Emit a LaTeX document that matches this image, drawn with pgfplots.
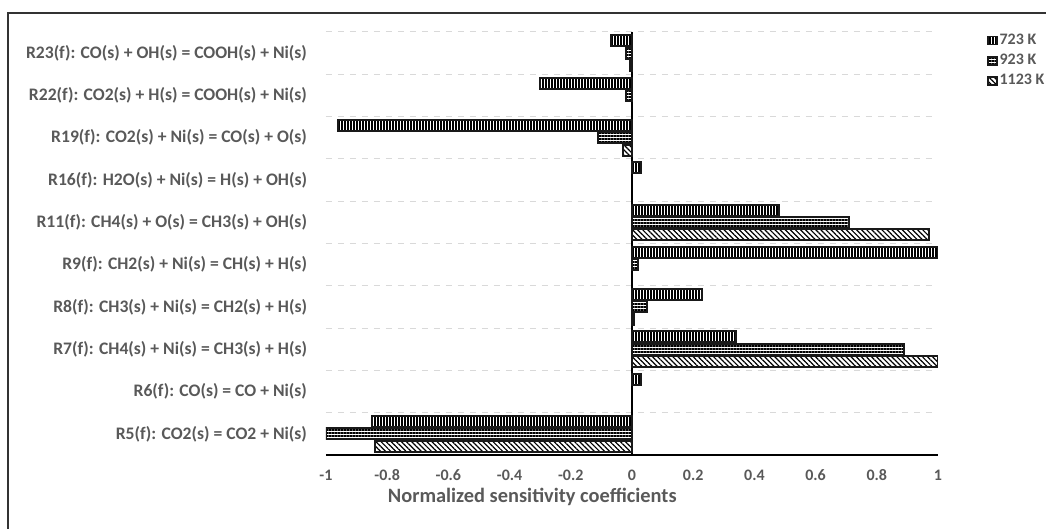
\documentclass[border=0pt]{standalone}
\usepackage{fontspec}
\setmainfont{Carlito}
\usepackage{pgfplots}
\pgfplotsset{compat=1.18}
\usetikzlibrary{patterns.meta}
\definecolor{txt}{HTML}{595959}
\definecolor{gridc}{HTML}{D9D9D9}

\begin{document}
\begin{tikzpicture}
\useasboundingbox (-163pt,-37pt) rectangle (360pt,227.5pt);
\draw[black!80, line width=0.9pt] (-159pt,-37pt) -- (-159pt,221pt) -- (360pt,221pt);
\begin{axis}[
    at={(0,0)}, anchor=south west,
    scale only axis,
    width=306pt, height=211.5pt,
    xbar,
    xmin=-1, xmax=1,
    ymin=-0.5, ymax=9.5,
    y dir=reverse,
    xtick={-1,-0.8,...,1},
    ytick={0,...,9},
    yticklabels={
      R23(f): CO(s) + OH(s) = COOH(s) + Ni(s),
      R22(f): CO2(s) + H(s) = COOH(s) + Ni(s),
      R19(f): CO2(s) + Ni(s) = CO(s) + O(s),
      R16(f): H2O(s) + Ni(s) = H(s) + OH(s),
      R11(f): CH4(s) + O(s) = CH3(s) + OH(s),
      R9(f): CH2(s) + Ni(s) = CH(s) + H(s),
      R8(f): CH3(s) + Ni(s) = CH2(s) + H(s),
      R7(f): CH4(s) + Ni(s) = CH3(s) + H(s),
      R6(f): CO(s) = CO + Ni(s),
      R5(f): CO2(s) = CO2 + Ni(s)},
    minor ytick={-0.5,0.5,...,8.5},
    yminorgrids,
    minor grid style={gridc, dashed, line width=0.5pt},
    major tick length=0pt, minor tick length=0pt,
    axis lines*=left,
    x axis line style={black, line width=1pt, -},
    y axis line style={draw=none},
    extra x ticks={0},
    extra x tick labels={},
    extra x tick style={grid=major, major grid style={black, line width=1.1pt}},
    /pgf/number format/assume math mode=true,
    xticklabel style={font=\bfseries\fontsize{8}{9}\selectfont, text=txt,
      anchor=base, yshift=-13pt},
    yticklabel style={font=\bfseries\fontsize{8.8}{10}\selectfont, text=txt, xshift=-6pt},
    xlabel={Normalized sensitivity coefficients},
    xlabel style={font=\bfseries\fontsize{10.2}{12}\selectfont, text=txt,
      at={(axis description cs:0.337,0)}, anchor=center, yshift=-21pt},
    bar width=5.5pt,
    every axis plot post/.append style={
      draw=black!90, line width=1pt,
      legend image code/.code={\draw[##1, line width=0.8pt] (0pt,-2pt) rectangle (4.5pt,2pt);}},
    legend style={at={(1.08,1.005)}, anchor=north west, draw=none, fill=none,
      inner sep=0pt, outer sep=0pt,
      font=\bfseries\fontsize{8}{9}\selectfont, text=txt, row sep=-0.6pt,
      /tikz/every even column/.append style={column sep=0pt},
      nodes={inner xsep=1pt}},
    legend cell align=left,
]
% 723 K
\addplot[bar shift=6.15pt, pattern={Lines[angle=90, distance=1.5pt, line width=0.55pt]}, pattern color=black]
  coordinates {(-0.07,0) (-0.30,1) (-0.96,2) (0.03,3) (0.48,4) (1.0,5) (0.23,6) (0.34,7) (0.03,8) (-0.85,9)};
% 923 K
\addplot[bar shift=0pt, pattern={Lines[angle=0, distance=1.5pt, line width=0.55pt]}, pattern color=black]
  coordinates {(-0.02,0) (-0.02,1) (-0.11,2) (0.71,4) (0.02,5) (0.05,6) (0.89,7) (-1.0,9)};
% 1123 K
\addplot[bar shift=-6.15pt, pattern={Lines[angle=-45, distance=1.8pt, line width=0.6pt]}, pattern color=black]
  coordinates {(-0.006,0) (-0.03,2) (0.97,4) (0.006,6) (1.0,7) (-0.84,9)};
\legend{723 K, 923 K, 1123 K}
\end{axis}
\end{tikzpicture}
\end{document}
